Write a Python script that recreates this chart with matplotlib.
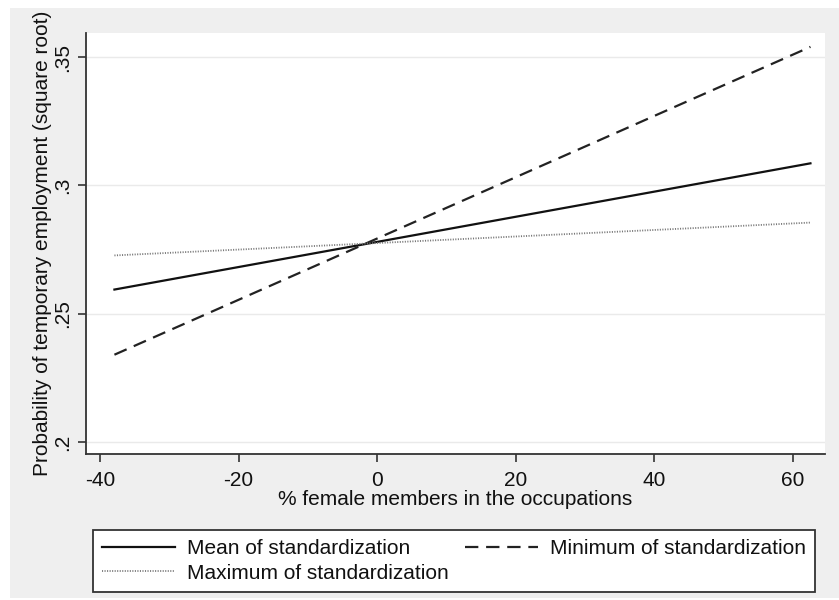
import matplotlib
matplotlib.use("Agg")
import matplotlib.pyplot as plt
from matplotlib.patches import Rectangle

plt.rcParams['font.family'] = ['Liberation Sans', 'DejaVu Sans']

# Data (linear predictions)
x_vals = [-37.9, 62.5]
mean_std = [0.2594, 0.3086]
min_std = [0.2340, 0.3540]
max_std = [0.2727, 0.2855]

x_ticks = [-40, -20, 0, 20, 40, 60]
x_ticklabels = ['-40', '-20', '0', '20', '40', '60']
y_ticks = [0.20, 0.25, 0.30, 0.35]
y_ticklabels = ['.2', '.25', '.3', '.35']

fig = plt.figure(figsize=(8.39, 6.0), dpi=100, facecolor='white')
fig.patches.append(Rectangle((10/839, 2/600), 1 - 10/839, 590/600,
                             transform=fig.transFigure, facecolor='#efefef',
                             edgecolor='none', zorder=-10))

ax = fig.add_axes([86/839, 146/600, (825-86)/839, (454-33)/600])
ax.set_facecolor('white')

l_mean, = ax.plot(x_vals, mean_std, color='#111111', lw=1.6, ls='-', label='Mean of standardization')
l_min, = ax.plot(x_vals, min_std, color='#222222', lw=1.6, ls=(0, (6, 3.5)), label='Minimum of standardization')
l_max, = ax.plot(x_vals, max_std, color='#777777', lw=1.3, ls=(0, (0.6, 0.8)), label='Maximum of standardization')

ax.set_xlim(-42.0, 64.6)
ax.set_ylim(0.1953, 0.3594)

ax.set_xticks(x_ticks)
ax.set_xticklabels(x_ticklabels)
ax.set_yticks(y_ticks)
ax.set_yticklabels(y_ticklabels, rotation=90, va='center')

ax.grid(axis='y', color='#eaeaea', lw=1.0)
ax.set_axisbelow(True)

for s in ['top', 'right']:
    ax.spines[s].set_visible(False)
for s in ['left', 'bottom']:
    ax.spines[s].set_color('#333333')
    ax.spines[s].set_linewidth(1.3)

ax.tick_params(axis='both', direction='out', length=6, width=1.2, color='#333333',
               labelsize=15, labelcolor='#111111')
ax.tick_params(axis='x', pad=6)
ax.tick_params(axis='y', pad=4)

ax.set_xlabel('% female members in the occupations', fontsize=15, color='#111111', labelpad=0)
ax.set_ylabel('Probability of temporary employment (square root)', fontsize=15,
              color='#111111', labelpad=1)

handles = [l_mean, l_max, l_min]
leg = fig.legend(handles=handles, labels=[h.get_label() for h in handles],
                 loc='lower left', bbox_to_anchor=(93/839, 8/600, (815-93)/839, 69/600),
                 bbox_transform=fig.transFigure, mode='expand', ncol=2,
                 frameon=True, fancybox=False, edgecolor='#333333', framealpha=1,
                 fontsize=15, handlelength=3.5, handletextpad=0.55, borderaxespad=0,
                 labelspacing=0.25, columnspacing=1.5, borderpad=0.45)
leg.get_frame().set_linewidth(1.3)
for t in leg.get_texts():
    t.set_color('#111111')

fig.savefig('out.png', dpi=100, facecolor=fig.get_facecolor())
